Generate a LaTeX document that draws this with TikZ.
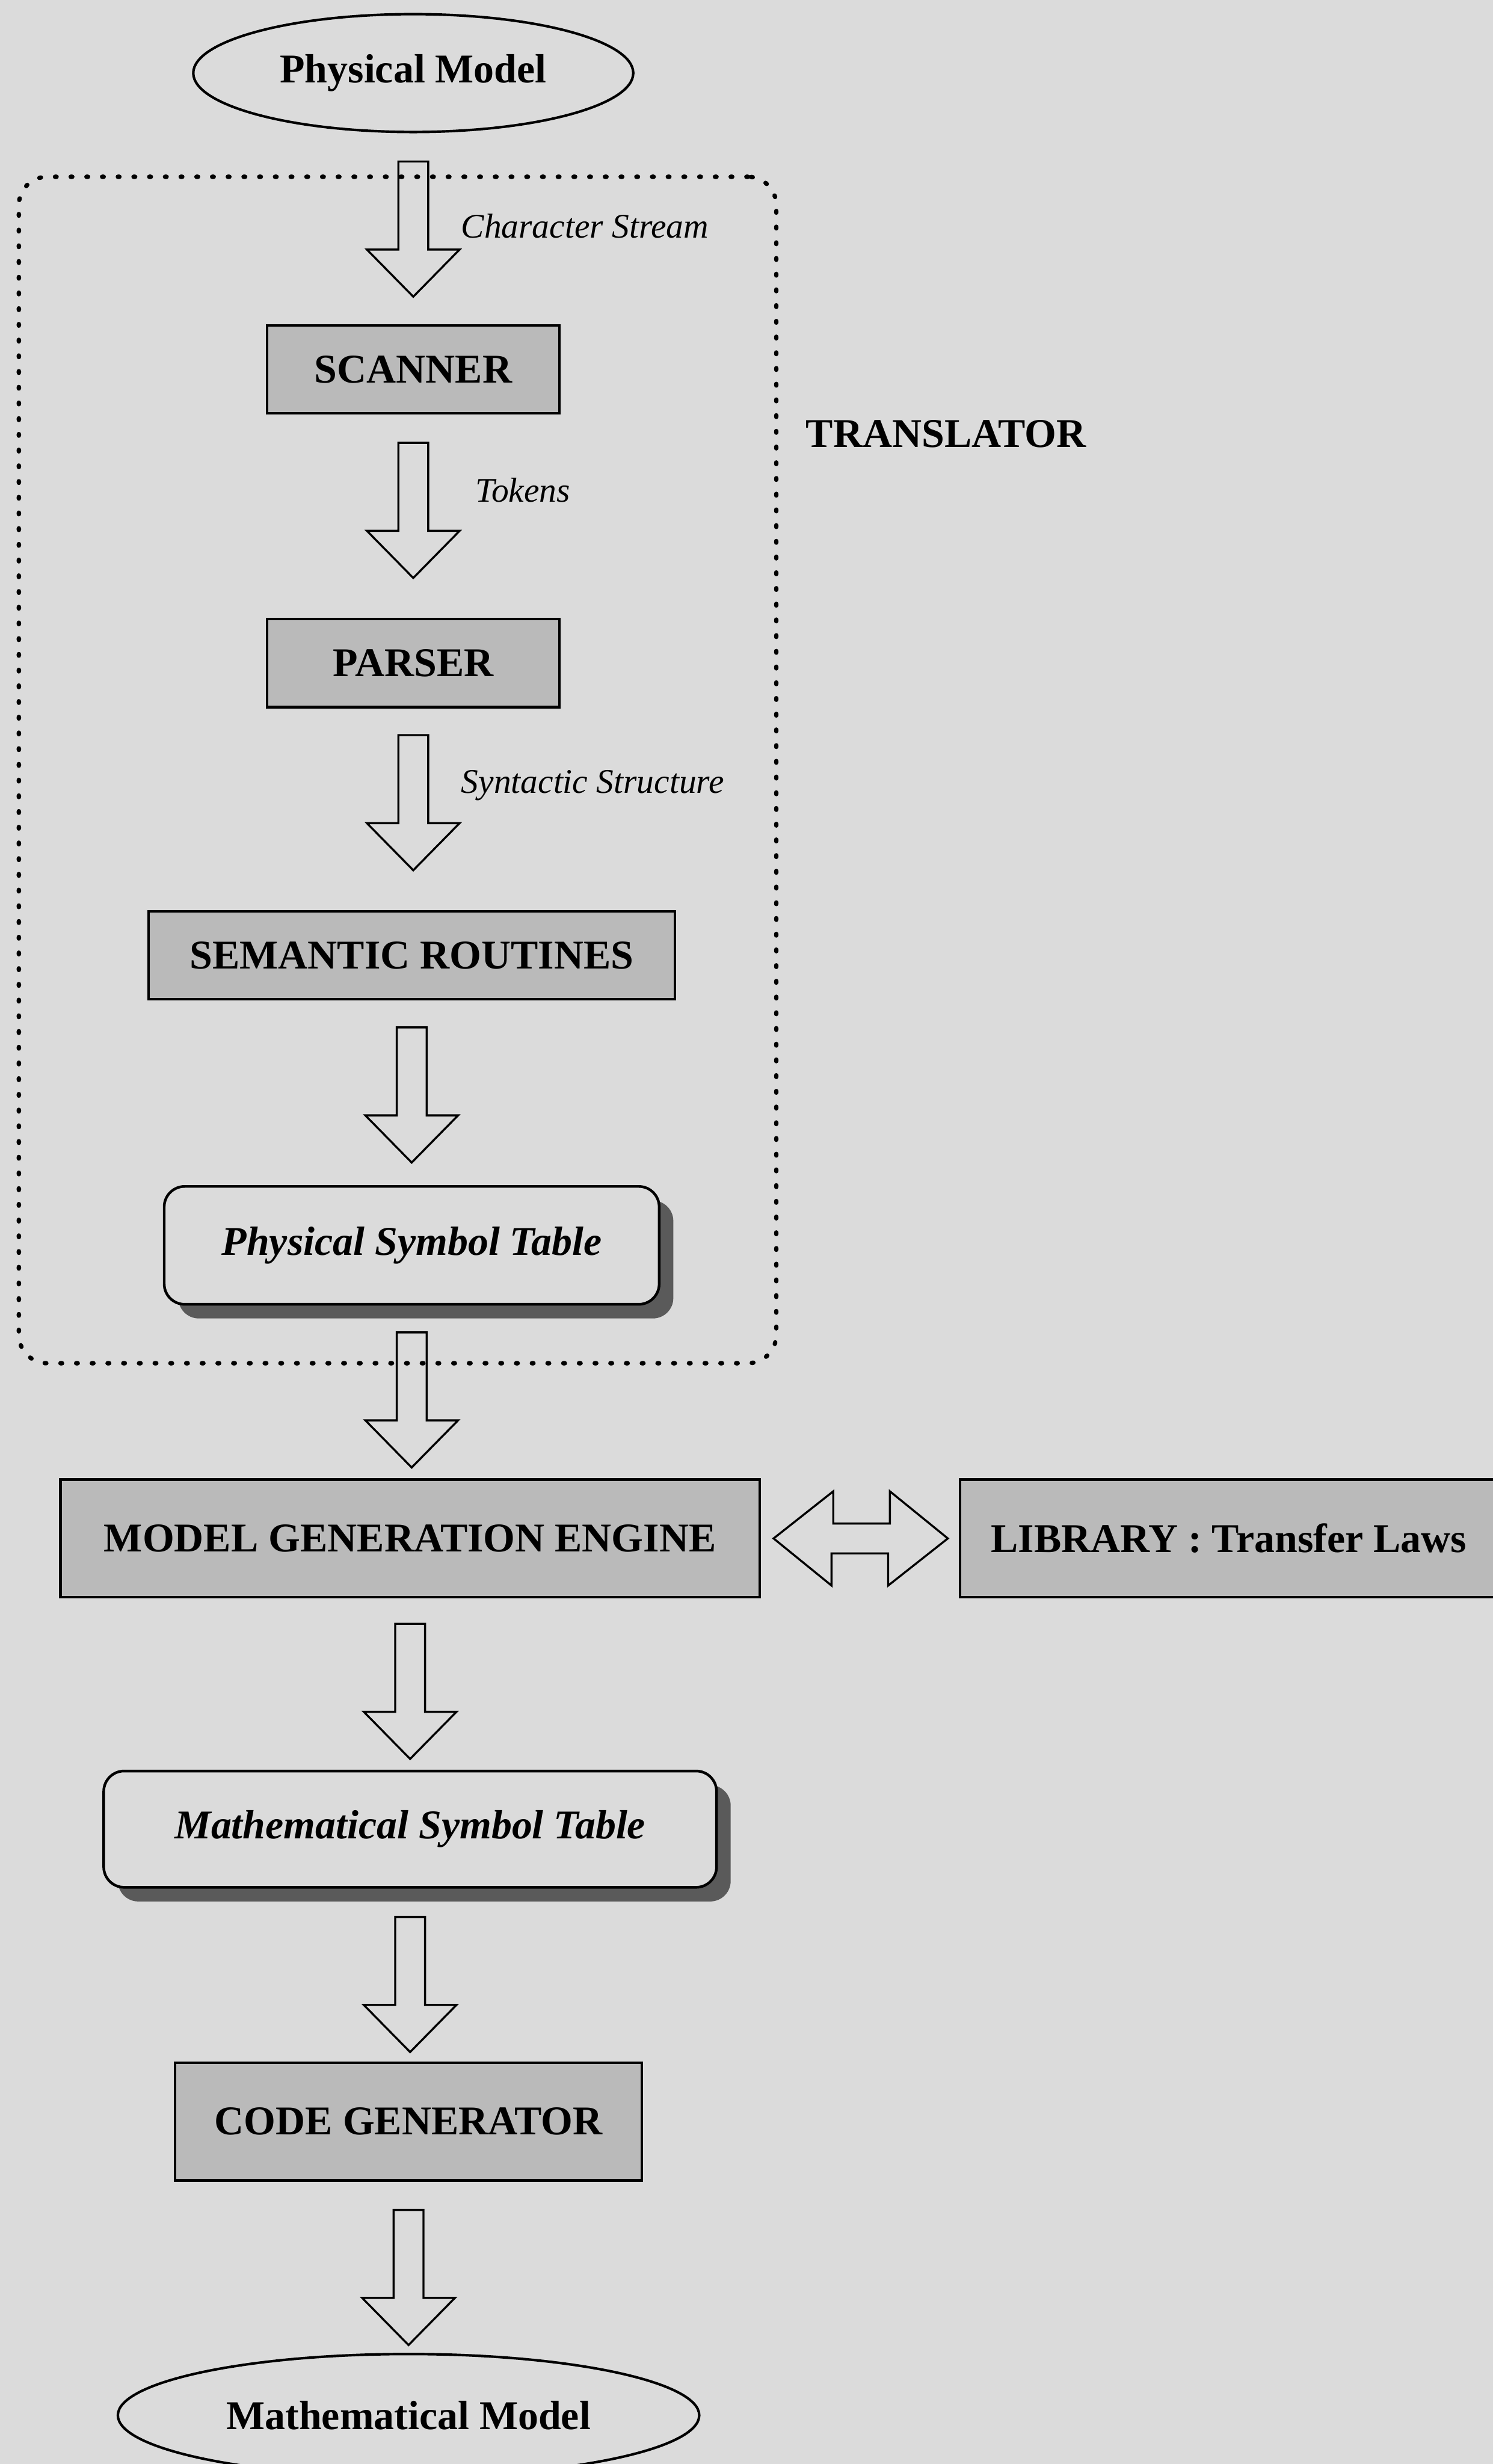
\documentclass[tikz,border=0pt]{standalone}
\usepackage{fontspec}
\setmainfont{Liberation Serif}
\usetikzlibrary{calc,shapes.geometric,shadows}
\definecolor{paper}{RGB}{219,219,219}
\definecolor{boxgray}{RGB}{186,186,186}
\definecolor{shadegray}{RGB}{90,90,90}
\tikzset{
	bigfont/.style={font=\fontsize{26}{30}\selectfont\bfseries},
	labelfont/.style={font=\fontsize{22}{26}\selectfont\itshape},
	modelnode/.style={draw, ellipse, line width=1.6pt, inner sep=0pt, bigfont},
	stagebox/.style={draw, fill=boxgray, line width=1.6pt, inner sep=0pt, bigfont},
	tablebox/.style={draw, fill=paper, rounded corners=13pt, line width=1.7pt, inner sep=0pt,
		font=\fontsize{26}{30}\selectfont\bfseries\itshape,
		drop shadow={shadow xshift=9pt, shadow yshift=-9pt, fill=shadegray, opacity=1}},
	translatorbox/.style={draw, rounded corners=18pt, line width=2.8pt, line cap=round,
		dash pattern=on 1pt off 9pt},
	blockarrow/.style={draw, line width=1.3pt, line join=miter},
	pics/downarrow/.style={code={
		\draw[blockarrow] (-9.5,0) -- (-9.5,56) -- (-29.5,56) -- (0,86) -- (29.5,56) -- (9.5,56) -- (9.5,0) -- cycle;}}
}

\begin{document}
\begin{tikzpicture}[x=1pt, y=-1pt]
	%%%%% START %%%%%
	
	\fill[paper] (0,0) rectangle (950,1568);
	\useasboundingbox (0,0) rectangle (950,1568);
	
	\node[modelnode, minimum width=280pt, minimum height=75pt] (phys) at (263,46.5) {Physical Model};
	
	\node[translatorbox, minimum width=482pt, minimum height=755pt] (trans) at (253,490) {};
	\node[bigfont] (translbl) at (602,276) {TRANSLATOR};
	
	\node[stagebox, minimum width=186pt, minimum height=56pt] (scan) at (263,235) {SCANNER};
	\node[stagebox, minimum width=186pt, minimum height=56pt] (pars) at (263,422) {PARSER};
	\node[stagebox, minimum width=335pt, minimum height=56pt] (sem) at (262,608) {SEMANTIC ROUTINES};
	\node[tablebox, minimum width=315pt, minimum height=75pt] (phystab) at (262,792.5) {Physical Symbol Table};
	
	\node[stagebox, minimum width=445pt, minimum height=75pt] (mge) at (261,979) {MODEL GENERATION ENGINE};
	\node[stagebox, minimum width=342pt, minimum height=75pt] (lib) at (782,979) {LIBRARY : Transfer Laws};
	
	\node[tablebox, minimum width=390pt, minimum height=74pt] (mathtab) at (261,1164) {Mathematical Symbol Table};
	\node[stagebox, minimum width=297pt, minimum height=75pt] (codegen) at (260,1350) {CODE GENERATOR};
	\node[modelnode, minimum width=370pt, minimum height=78pt] (mathmod) at (260,1537) {Mathematical Model};
	
	% block arrows
	\pic at ($(phys.south)+(0,18)$) {downarrow};
	\pic at ($(scan.south)+(0,18)$) {downarrow};
	\pic at ($(pars.south)+(0,17)$) {downarrow};
	\pic at ($(sem.south)+(0,17)$) {downarrow};
	\pic at ($(phystab.south)+(0,17)$) {downarrow};
	\pic at ($(mge.south)+(0,16)$) {downarrow};
	\pic at ($(mathtab.south)+(0,18)$) {downarrow};
	\pic at ($(codegen.south)+(0,18)$) {downarrow};
	
	\draw[blockarrow] ($(mge.east)+(8,0)$) -- ++(38,-30) -- ++(0,20.5) -- ++(36,0) -- ++(0,-20.5)
		-- ($(lib.west)+(-7,0)$) -- ++(-38,30) -- ++(0,-20.5) -- ++(-36,0) -- ++(0,20.5) -- cycle;
	
	\node[labelfont, anchor=west] (lblchar) at (290,144) {Character Stream};
	\node[labelfont, anchor=west] (lbltok) at (299,312) {Tokens};
	\node[labelfont, anchor=west] (lblsyn) at (290,500) {Syntactic Structure};
	
	%%%%% END %%%%%
\end{tikzpicture}
\end{document}
